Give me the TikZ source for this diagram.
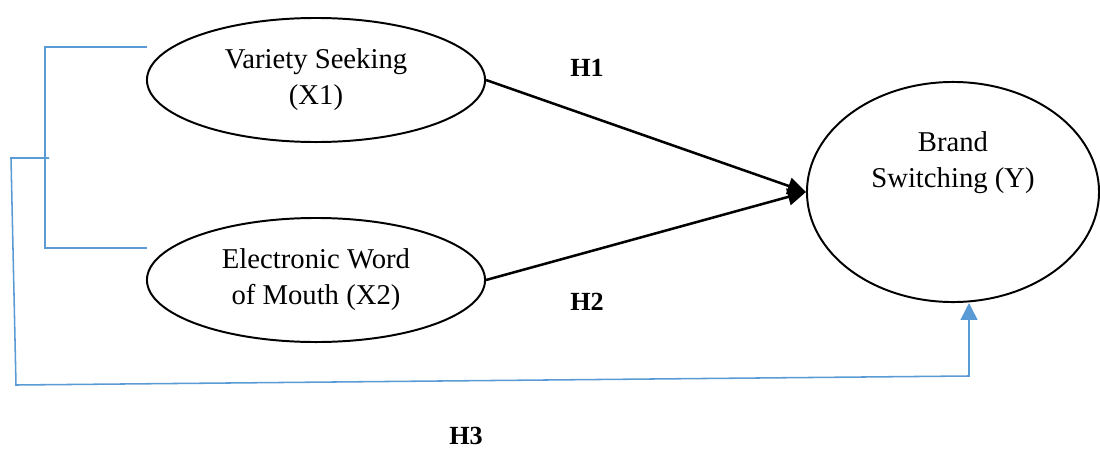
\documentclass[tikz,border=0pt]{standalone}
\usepackage{fontspec}
\setmainfont{Liberation Serif}
\usetikzlibrary{shapes.geometric,arrows.meta}
\definecolor{linkblue}{RGB}{91,155,213}
\tikzset{
  oval/.style={ellipse, draw, line width=1.4pt, inner sep=0pt, align=center,
    font=\fontsize{20.4}{25.6}\selectfont},
  ovaltext/.style={align=center, font=\fontsize{20.4}{25.6}\selectfont},
  hyp/.style={font=\fontsize{18.6}{22}\selectfont\bfseries},
  effect/.style={line width=1.8pt, -{Triangle[length=13pt,width=12pt]}},
  blueline/.style={draw=linkblue, line width=1.1pt}
}
\begin{document}
\begin{tikzpicture}[x=0.025cm, y=-0.025cm]
\useasboundingbox (0,0) rectangle (1100,448);

\node[oval, minimum width=8.45cm, minimum height=3.1cm] (vs) at (316,80) {Variety Seeking\\(X1)};
\node[oval, minimum width=8.45cm, minimum height=3.1cm] (ewom) at (316,280) {Electronic Word\\of Mouth (X2)};
\node[oval, minimum width=7.3cm, minimum height=5.5cm] (bs) at (953,192) {};
\node[ovaltext] (bstext) at (953,163) {Brand\\Switching (Y)};

\draw[effect] (vs.east) -- (bs.west);
\draw[effect] (ewom.east) -- (bs.west);

\node[hyp] (h1) at (587,68) {H1};
\node[hyp] (h2) at (587,302) {H2};
\node[hyp] (h3) at (466,436) {H3};

% bracket round the two causes
\coordinate (brtop) at (147,47);
\coordinate (brbot) at (147,248);
\coordinate (brmid) at (49,158);
\coordinate (loopstart) at (11,158);
\coordinate (loopcorner) at (16,385);
\coordinate (loopend) at (969,376);
\draw[blueline] (brtop) -- (45,47) -- (45,248) -- (brbot);
\draw[blueline, -{Triangle[length=12pt,width=12pt]}]
  (brmid) -- (loopstart) -- (loopcorner) -- (loopend) -- (loopend |- bs.south);
\end{tikzpicture}
\end{document}
